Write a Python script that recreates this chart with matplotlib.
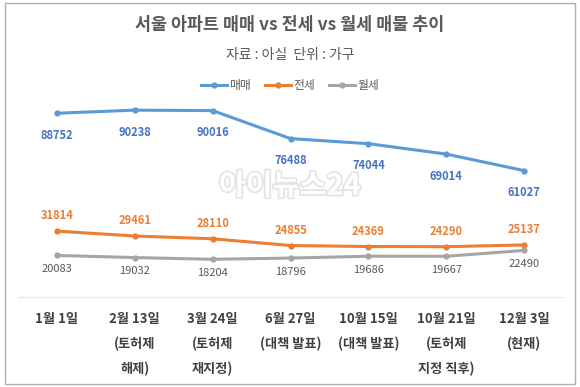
import matplotlib.pyplot as plt
import matplotlib.patheffects as pe
from matplotlib.patches import Rectangle

plt.rcParams['font.family'] = ['Noto Sans CJK KR', 'DejaVu Sans']

dates = ['1월 1일', '2월 13일\n(토허제\n해제)', '3월 24일\n(토허제\n재지정)', '6월 27일\n(대책 발표)',
         '10월 15일\n(대책 발표)', '10월 21일\n(토허제\n지정 직후)', '12월 3일\n(현재)']
sale = [88752, 90238, 90016, 76488, 74044, 69014, 61027]
jeonse = [31814, 29461, 28110, 24855, 24369, 24290, 25137]
monthly = [20083, 19032, 18204, 18796, 19686, 19667, 22490]

c_sale, c_jeonse, c_monthly = '#5B9BD5', '#ED7D31', '#A5A5A5'

fig = plt.figure(figsize=(5.8, 3.87), dpi=100)
fig.patches.append(Rectangle((0.009, 0.008), 0.982, 0.984, transform=fig.transFigure,
                             fill=False, edgecolor='#b0b0b0', linewidth=1))
ax = fig.add_axes([0.031, 0.2326, 0.94, 0.535])

x = range(len(dates))
ax.plot(x, sale, color=c_sale, lw=2.2, marker='o', ms=3.5, label='매매')
ax.plot(x, jeonse, color=c_jeonse, lw=2.2, marker='o', ms=3.5, label='전세')
ax.plot(x, monthly, color=c_monthly, lw=2.2, marker='o', ms=3.5, label='월세')

for i in x:
    ax.annotate(str(sale[i]), (i, sale[i]), xytext=(0, -16), textcoords='offset points',
                ha='center', va='center', fontsize=8, fontweight='bold', color='#4472C4')
    ax.annotate(str(jeonse[i]), (i, jeonse[i]), xytext=(0, 11), textcoords='offset points',
                ha='center', va='center', fontsize=8, fontweight='bold', color=c_jeonse)
    ax.annotate(str(monthly[i]), (i, monthly[i]), xytext=(0, -10), textcoords='offset points',
                ha='center', va='center', fontsize=8, color='#595959')

ax.set_xlim(-0.5, len(dates) - 0.5)
ax.set_ylim(0, 100000)
ax.set_yticks([])
ax.set_xticks(list(x))
ax.set_xticklabels(dates, fontsize=9.5, fontweight='bold', color='#404040', linespacing=1.9, va='top')
ax.tick_params(axis='x', length=0, pad=11)
for s in ['top', 'left', 'right']:
    ax.spines[s].set_visible(False)
ax.spines['bottom'].set_color('#e6e6e6')
ax.spines['bottom'].set_linewidth(0.8)

fig.text(0.5, 0.935, '서울 아파트 매매 vs 전세 vs 월세 매물 추이', ha='center', va='center',
         fontsize=12.5, fontweight='bold', color='#595959')
fig.text(0.5, 0.857, '자료 : 아실  단위 : 가구', ha='center', va='center', fontsize=10, color='#595959')

fig.legend(loc='center', bbox_to_anchor=(0.5, 0.78), ncol=3, frameon=False, fontsize=8.5,
           handlelength=2.2, handletextpad=0.2, columnspacing=1.2, labelcolor='#595959')

fig.text(0.5, 0.52, '아이뉴스24', ha='center', va='center', fontsize=21, fontweight='bold',
         color='white', path_effects=[pe.withStroke(linewidth=2.5, foreground='#e4e4e4')], zorder=0)

fig.savefig('out.png', dpi=100)
